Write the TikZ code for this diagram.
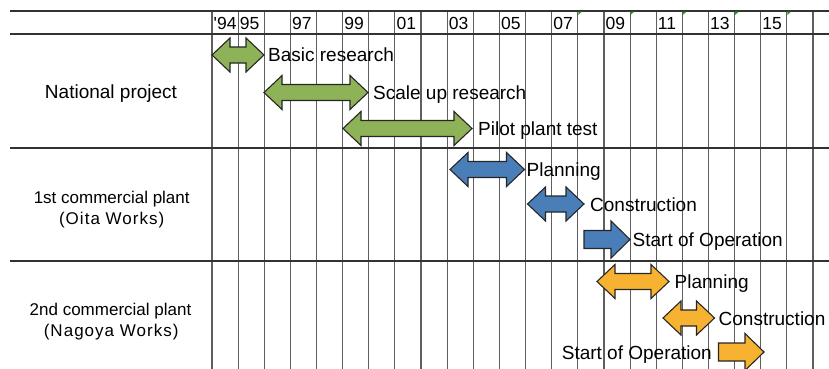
\documentclass[tikz,border=0pt]{standalone}
\usepackage{fontspec}
\setmainfont{Liberation Sans}
\definecolor{gfill}{RGB}{141,178,87}
\definecolor{bfill}{RGB}{74,126,184}
\definecolor{ofill}{RGB}{247,178,50}
\definecolor{hline}{RGB}{50,50,50}
\definecolor{vlinec}{RGB}{95,95,95}
\definecolor{xlgreen}{RGB}{40,150,40}
\tikzset{
  hl/.style={draw=hline, line width=1.3pt},
  vl/.style={draw=vlinec, line width=1.1pt},
  arr/.style={draw=black!85, line width=1.1pt, line join=miter},
  hdr/.style={inner sep=0pt, anchor=base west, font=\fontsize{17.5}{20}\selectfont},
  lab/.style={inner sep=0pt, anchor=base west, font=\fontsize{19}{22}\selectfont},
  rowlab/.style={inner sep=0pt, anchor=base, font=\fontsize{17}{21}\selectfont},
  rowlabw/.style={rowlab, font=\fontsize{17}{21}\selectfont\addfontfeature{LetterSpace=6}},
}
% double arrow: x1, x2, y, fill
\newcommand\dblarr[4]{%
  \filldraw[arr, fill=#4] (#1,#3) -- (#1+18,#3-17) -- (#1+18,#3-8) -- (#2-18,#3-8) -- (#2-18,#3-17) -- (#2,#3)
   -- (#2-18,#3+17) -- (#2-18,#3+8) -- (#1+18,#3+8) -- (#1+18,#3+17) -- cycle;}
% single right arrow: x1, x2, y, fill
\newcommand\sglarr[4]{%
  \filldraw[arr, fill=#4] (#1,#3-9) -- (#2-19,#3-9) -- (#2-19,#3-18.5) -- (#2,#3) -- (#2-19,#3+18.5)
   -- (#2-19,#3+9) -- (#1,#3+9) -- cycle;}
\begin{document}
\begin{tikzpicture}[x=1pt, y=-1pt]
\useasboundingbox (0,0) rectangle (829,369);
% vertical grid
\foreach \k in {0,...,23} \draw[vl] ({212+26.13*\k},11) -- ({212+26.13*\k},369);
% horizontal lines
\foreach \yy in {11,34,148,261} \draw[hl] (10,\yy) -- (829,\yy);
% small green corner marks
\foreach \k in {14,16,18,20,22} \fill[xlgreen] ({212+26.13*\k+0.6},11.7) -- ({212+26.13*\k+4},11.7) -- ({212+26.13*\k+0.6},15) -- cycle;
% header labels
\foreach \k/\t in {0/{\textquotesingle}94,1/95,3/97,5/99,7/01,9/03,11/05,13/07,15/09,17/11,19/13,21/15}
  \node[hdr] (h\k) at ({212+26.13*\k+1.5},29.5) {\t};
% row labels
\node[rowlab, font=\fontsize{19}{22}\selectfont] (rowA) at (111,98.3) {National project};
\node[rowlab] (rowB1) at (111.7,203) {1st commercial plant};
\node[rowlabw] (rowB2) at (111.7,224) {(Oita Works)};
\node[rowlab] (rowC1) at (110.5,315) {2nd commercial plant};
\node[rowlabw] (rowC2) at (111.2,336) {(Nagoya Works)};
% green arrows
\dblarr{212}{264}{55}{gfill}
\dblarr{264}{368}{92.5}{gfill}
\dblarr{343}{472}{128.5}{gfill}
% blue arrows
\dblarr{450}{524.5}{169.5}{bfill}
\dblarr{527.5}{584}{204}{bfill}
\sglarr{584}{630}{239.5}{bfill}
% orange arrows
\dblarr{597}{669}{281.5}{ofill}
\dblarr{663}{714.5}{318}{ofill}
\sglarr{718.5}{764}{352}{ofill}
% arrow labels
\node[lab] (g1) at (268,62) {Basic research};
\node[lab] (g2) at (373,99.5) {Scale up research};
\node[lab] (g3) at (478,135.5) {Pilot plant test};
\node[lab] (b1) at (526.5,176.5) {Planning};
\node[lab] (b2) at (590,211) {Construction};
\node[lab] (b3) at (632.5,246.5) {Start of Operation};
\node[lab] (o1) at (674.5,288.5) {Planning};
\node[lab] (o2) at (718.5,325) {Construction};
\node[lab, anchor=base east] (o3) at (712,359) {Start of Operation};
\end{tikzpicture}
\end{document}
